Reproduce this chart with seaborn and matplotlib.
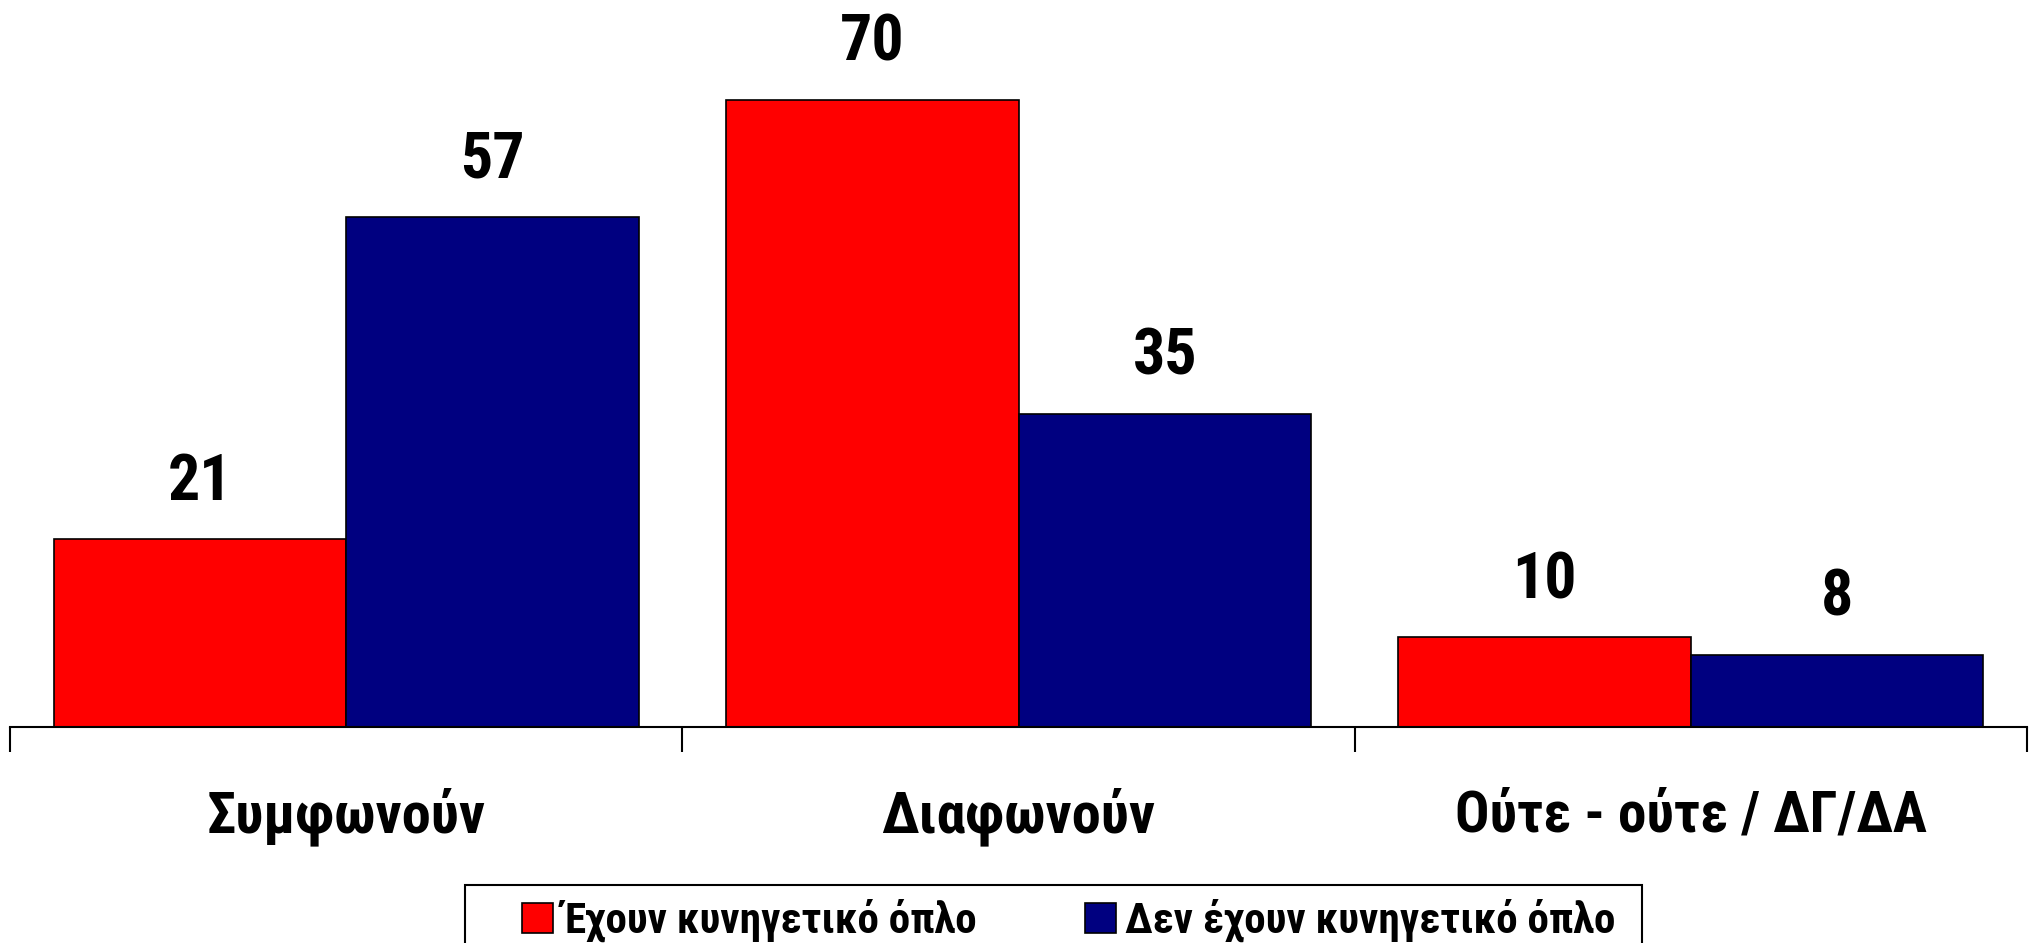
import pandas as pd
import seaborn as sns
import matplotlib.pyplot as plt
from matplotlib.patches import Rectangle
from matplotlib import font_manager

categories = ['Συμφωνούν', 'Διαφωνούν', 'Ούτε - ούτε / ΔΓ/ΔΑ']
series = ['Έχουν κυνηγετικό όπλο', 'Δεν έχουν κυνηγετικό όπλο']
have_gun = [21, 70, 10]
no_gun = [57, 35, 8]
colors = ['#FF0000', '#000080']

df = pd.DataFrame({
    'category': categories * 2,
    'group': [series[0]] * 3 + [series[1]] * 3,
    'value': have_gun + no_gun,
})

sns.set_style('white')
installed = {f.name for f in font_manager.fontManager.ttflist}
narrow = [n for n in ['Roboto Condensed', 'Liberation Sans Narrow', 'Open Sans Condensed']
          if n in installed]
plt.rcParams['font.family'] = narrow + ['Liberation Sans', 'DejaVu Sans']
plt.rcParams['font.weight'] = 'bold'
plt.rcParams['text.color'] = 'black'
scale = 1.0 if narrow else 0.86

W, H = 2035, 943
fig = plt.figure(figsize=(W / 100, H / 100), dpi=100)
ax = fig.add_axes([10 / W, 1 - 727 / H, 2017 / W, 727 / H])

sns.barplot(data=df, x='category', y='value', hue='group', order=categories,
            hue_order=series, palette=colors, saturation=1, width=0.87, gap=0,
            edgecolor='black', linewidth=1.2, ax=ax, legend=True)

for c in ax.containers:
    ax.bar_label(c, fmt='%d', padding=19, fontsize=46 * scale, fontweight='bold', color='black')

ax.set_xlim(-0.5, 2.5)
ax.set_ylim(0, 81.2)
ax.set_xlabel('')
ax.set_ylabel('')
ax.set_yticks([])
for s in ['top', 'left', 'right']:
    ax.spines[s].set_visible(False)
ax.spines['bottom'].set_linewidth(1.5)
ax.spines['bottom'].set_color('black')

# ticks sit on the category boundaries, labels are centred under each group
ax.set_xticks([-0.5, 0.5, 1.5, 2.5])
ax.set_xticklabels([])
ax.tick_params(axis='x', bottom=True, length=18, width=1.5, color='black', direction='out')
sizes = [42, 42, 41]
for i, cat in enumerate(categories):
    ax.text(i, -0.1444, cat, transform=ax.get_xaxis_transform(), ha='center',
            va='baseline', fontsize=sizes[i] * scale, fontweight='bold', color='black')

handles, labels = ax.get_legend_handles_labels()
ax.get_legend().remove()
fig.legend(handles, labels, loc='upper left', bbox_to_anchor=(522 / W, 1 - 899 / H),
           ncol=2, frameon=False, handlelength=0.72, handleheight=0.72,
           handletextpad=0.22, columnspacing=2.5, borderaxespad=0, borderpad=0,
           prop={'weight': 'bold', 'size': 31 * scale})
fig.patches.append(Rectangle((465 / W, -0.05), (1642 - 465) / W, 0.05 + 1 - 885 / H,
                             transform=fig.transFigure, fill=False,
                             edgecolor='black', linewidth=1.5))

fig.savefig('out.png', dpi=100)
